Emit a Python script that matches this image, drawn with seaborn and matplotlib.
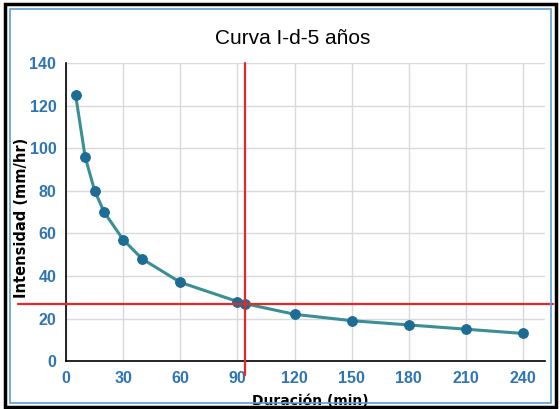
import matplotlib
matplotlib.use("Agg")
import matplotlib.pyplot as plt
import seaborn as sns
import pandas as pd
from matplotlib.patches import Rectangle

duracion = [5, 10, 15, 20, 30, 40, 60, 90, 94, 120, 150, 180, 210, 240]
intensidad = [125, 96, 80, 70, 57, 48, 37, 28, 27, 22, 19, 17, 15, 13]
x_ticks = [0, 30, 60, 90, 120, 150, 180, 210, 240]
y_ticks = [0, 20, 40, 60, 80, 100, 120, 140]
ref_x = 94
ref_y = 27

df = pd.DataFrame({"Duración (min)": duracion, "Intensidad (mm/hr)": intensidad})

sns.set_style("whitegrid")
plt.rcParams['font.family'] = ['Liberation Sans Narrow', 'Liberation Sans', 'DejaVu Sans']

fig = plt.figure(figsize=(5.6, 4.09), dpi=100)
ax = fig.add_axes([0.118, 0.117, 0.855, 0.729])

sns.lineplot(data=df, x="Duración (min)", y="Intensidad (mm/hr)", ax=ax,
             color="#3A8E96", linewidth=2.2, marker="o", markersize=7,
             markerfacecolor="#1C6C93", markeredgecolor="#1C6C93", zorder=3)

ax.set_xlim(0, 251.5)
ax.set_ylim(0, 140)
ax.set_xticks(x_ticks)
ax.set_yticks(y_ticks)
ax.grid(True, color="#D9D9D9", linewidth=1)
for s in ["top", "right"]:
    ax.spines[s].set_visible(False)
for s in ["left", "bottom"]:
    ax.spines[s].set_color("black")
    ax.spines[s].set_linewidth(1.2)
ax.tick_params(axis="both", length=0, labelsize=11.5, labelcolor="#2F75B5", pad=7)
for lbl in ax.get_xticklabels() + ax.get_yticklabels():
    lbl.set_fontweight("bold")

ax.set_xlabel("Duración (min)", fontsize=10, fontweight="bold", color="black",
              family=['DejaVu Sans'])
ax.set_ylabel("Intensidad (mm/hr)", fontsize=10.5, fontweight="bold", color="black",
              family=['DejaVu Sans'])
ax.xaxis.set_label_coords(0.51, -0.135)
ax.xaxis.label.set_va("center")
ax.yaxis.set_label_coords(-0.077, 0.48)

ax.plot([ref_x, ref_x], [-6.5, 140], color="#E8262B", linewidth=1.6, clip_on=False, zorder=4)
ax.plot([-25, 256], [ref_y, ref_y], color="#E8262B", linewidth=1.6, clip_on=False, zorder=4)

fig.text(0.523, 0.907, "Curva I-d-5 años", ha="center", va="center", fontsize=15, color="black")

fig.patches.append(Rectangle((0.009, 0.005), 0.984, 0.985, transform=fig.transFigure,
                             fill=False, edgecolor="black", linewidth=2.5))
fig.patches.append(Rectangle((0.018, 0.015), 0.966, 0.963, transform=fig.transFigure,
                             fill=False, edgecolor="#5B9BD5", linewidth=1.2))

fig.savefig("out.png", dpi=100)
